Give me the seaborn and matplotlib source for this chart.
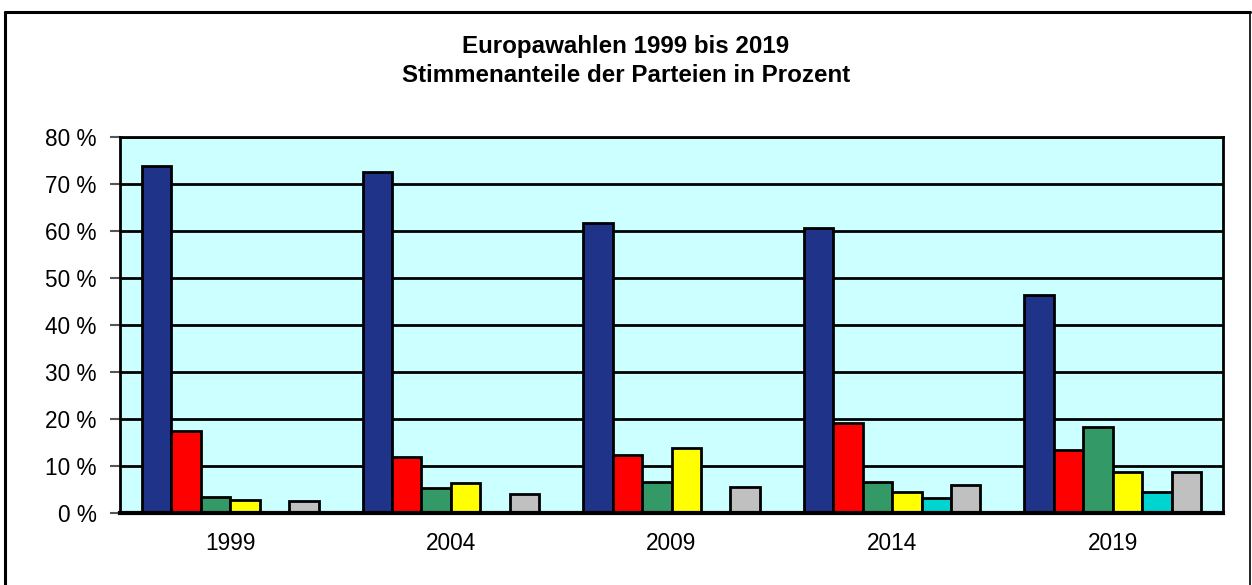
import matplotlib
matplotlib.use("Agg")
import matplotlib.pyplot as plt
from matplotlib.lines import Line2D
from matplotlib.ticker import FuncFormatter
import seaborn as sns
import pandas as pd

# Election years and vote shares (percent) per party
years = ["1999", "2004", "2009", "2014", "2019"]
parties = ["Partei 1", "Partei 2", "Partei 3", "Partei 4", "Partei 5", "Partei 6"]
partei_1 = [73.8, 72.6, 61.8, 60.6, 46.4]
partei_2 = [17.5, 12.0, 12.3, 19.2, 13.4]
partei_3 = [3.3, 5.3, 6.7, 6.7, 18.4]
partei_4 = [2.8, 6.4, 13.9, 4.5, 8.7]
partei_5 = [None, None, None, 3.1, 4.5]
partei_6 = [2.6, 4.0, 5.5, 6.0, 8.8]
colors = ["#1F3388", "#FF0000", "#339966", "#FFFF00", "#00D4D0", "#C0C0C0"]
y_ticks = [0, 10, 20, 30, 40, 50, 60, 70, 80]

rows = []
for name, vals in zip(parties, [partei_1, partei_2, partei_3, partei_4, partei_5, partei_6]):
    for yr, v in zip(years, vals):
        if v is not None:
            rows.append({"Jahr": yr, "Partei": name, "Anteil": v})
df = pd.DataFrame(rows)

sns.set_theme(style="white")
plt.rcParams["font.family"] = ["Liberation Sans", "DejaVu Sans"]
plt.rcParams["text.color"] = "black"

fig = plt.figure(figsize=(12.52, 5.85), dpi=100)
ax = fig.add_axes([120 / 1252, 1 - 513 / 585, (1223 - 120) / 1252, (513 - 137) / 585])
ax.set_facecolor("#CCFFFF")

sns.barplot(data=df, x="Jahr", y="Anteil", hue="Partei", order=years,
            hue_order=parties, palette=colors, width=0.8, edgecolor="black",
            linewidth=2.0, saturation=1, legend=False, ax=ax, zorder=3)

ax.set_ylim(0, 80)
ax.set_xlim(-0.5, len(years) - 0.5)
ax.set_yticks(y_ticks)
ax.yaxis.set_major_formatter(FuncFormatter(lambda v, p: f"{int(v)} %"))
ax.grid(axis="y", color="black", linewidth=2.0, zorder=1)
ax.set_axisbelow(True)
ax.set_xlabel("")
ax.set_ylabel("")
ax.tick_params(axis="y", which="major", left=True, length=7, width=1.5,
               color="#555555", labelsize=16.3, pad=10, labelcolor="black")
ax.tick_params(axis="x", bottom=False, labelsize=16.3, pad=8, labelcolor="black")

for side in ["left", "top", "right"]:
    ax.spines[side].set_color("black")
    ax.spines[side].set_linewidth(2.0)
ax.spines["bottom"].set_color("black")
ax.spines["bottom"].set_linewidth(3.0)
ax.spines["bottom"].set_zorder(5)

fig.text(0.5, 1 - 47 / 585, "Europawahlen 1999 bis 2019", ha="center", va="center",
         fontsize=17.4, fontweight="bold", color="black")
fig.text(0.5, 1 - 75 / 585, "Stimmenanteile der Parteien in Prozent", ha="center",
         va="center", fontsize=17.4, fontweight="bold", color="black")

# Outer chart frame (open towards the bottom edge)
x0, x1 = 5 / 1252, 1250 / 1252
ytop = 1 - 12 / 585
fig.add_artist(Line2D([x0, x1], [ytop, ytop], color="black", linewidth=2.2,
                      transform=fig.transFigure))
fig.add_artist(Line2D([x0, x0], [0, ytop], color="black", linewidth=2.2,
                      transform=fig.transFigure))
fig.add_artist(Line2D([x1, x1], [0, ytop], color="black", linewidth=1.2,
                      transform=fig.transFigure))

fig.savefig("out.png", dpi=100)
